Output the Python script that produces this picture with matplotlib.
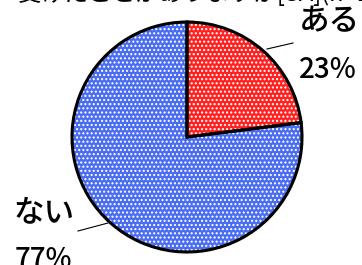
import matplotlib.pyplot as plt

plt.rcParams['font.family'] = ['Noto Sans CJK JP', 'DejaVu Sans']

labels = ['ある', 'ない']
shares = [23, 77]
colors = ['#ff2020', '#4a6cf0']
title = '受けたことがありますか[SA](n=1000)'

W, H = 362, 265
fig = plt.figure(figsize=(W / 100, H / 100), dpi=100)
ax = fig.add_axes([0, 0, 1, 1])

plt.rcParams['hatch.linewidth'] = 1.0
cx, cy, r = 187, 137, 115

# filled slices with white dot pattern
ax.pie(shares, colors=colors, startangle=-90, counterclock=True,
       center=(cx, cy), radius=r, frame=True,
       wedgeprops=dict(edgecolor='white', linewidth=0, hatch='....'))
# outlines on top
ax.pie(shares, colors=['none', 'none'], startangle=-90, counterclock=True,
       center=(cx, cy), radius=r, frame=True,
       wedgeprops=dict(edgecolor='black', linewidth=2.2, fill=False))
ax.set_xlim(0, W)
ax.set_ylim(H, 0)
ax.axis('off')

# labels and leader lines
ax.plot([267, 293], [49, 43], color='black', lw=0.8)
ax.text(329, 22, labels[0], fontsize=22, fontweight='medium',
        ha='center', va='center')
ax.text(328, 70, f'{shares[0]}%', fontsize=20, fontweight='medium',
        ha='center', va='center')

ax.plot([78, 108], [231, 223], color='black', lw=0.8)
ax.text(44, 214, labels[1], fontsize=22, fontweight='medium',
        ha='center', va='center')
ax.text(43, 259, f'{shares[1]}%', fontsize=20, fontweight='medium',
        ha='center', va='center')

# title, mostly cut off at the top
ax.text(18, 1, title, fontsize=17, ha='left', va='baseline')

fig.savefig('out.png', dpi=100)
